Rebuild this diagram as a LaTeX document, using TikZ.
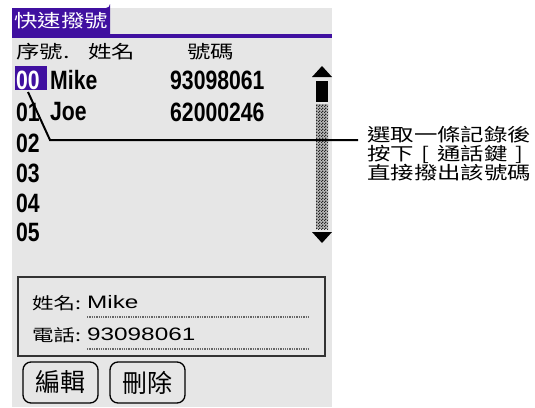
\documentclass[tikz,border=0pt]{standalone}
\usepackage{fontspec}
\usetikzlibrary{patterns}
\pgfdeclarepatternformonly{finecheck}{\pgfpointorigin}{\pgfqpoint{3pt}{3pt}}{\pgfqpoint{3pt}{3pt}}{%
  \pgfpathrectangle{\pgfpointorigin}{\pgfqpoint{1.5pt}{1.5pt}}%
  \pgfpathrectangle{\pgfqpoint{1.5pt}{1.5pt}}{\pgfqpoint{1.5pt}{1.5pt}}%
  \pgfusepath{fill}}
\newfontfamily\cjk[FakeStretch=1.3]{Noto Sans CJK TC}
\newfontfamily\cjkb[FakeStretch=1.0]{Noto Sans CJK TC}
\newfontfamily\rowf[FakeStretch=0.8]{Liberation Sans}
\newfontfamily\lsans[FakeStretch=1.35]{Liberation Sans}
\newcommand\brk[1]{\makebox[23.4pt][c]{#1}}
\definecolor{scr}{RGB}{230,230,230}
\definecolor{palm}{RGB}{64,16,160}
\tikzset{
  lbl/.style={anchor=west, inner sep=0pt},
  hdr/.style={lbl, font=\cjk\fontsize{18}{18}\selectfont},
  rowtxt/.style={lbl, font=\rowf\bfseries\fontsize{26.5}{27}\selectfont},
  det/.style={lbl, font=\cjk\fontsize{16.5}{17}\selectfont},
  detval/.style={lbl, font=\lsans\fontsize{18}{18}\selectfont},
  btn/.style={draw, line width=1.3pt, rounded corners=8pt, minimum width=75pt, minimum height=41pt, inner sep=0pt, font=\cjkb\fontsize{25}{25}\selectfont},
  leader/.style={line width=2pt, black},
  dotl/.style={line width=1.3pt, gray!80!black, dash pattern=on 1.3pt off 1pt}
}
\begin{document}
\begin{tikzpicture}[x=1pt, y=-1pt]
\useasboundingbox (0,0) rectangle (535,407);
% screen
\fill[scr] (12,8) rectangle (332,407);
% tab and title bar
\fill[palm] (12,37) -- (12,8) -- (106,8) arc[start angle=90, end angle=0, radius=4] -- (110,37) -- cycle;
\fill[palm] (12,33.5) rectangle (332,37.5);
\node[hdr, text=white] (title) at (14,21) {快速撥號};
% header
\node[hdr] (h1) at (16,51.5) {序號.};
\node[hdr] (h2) at (88,51.5) {姓名};
\node[hdr] (h3) at (187,51.5) {號碼};
% selection highlight
\fill[palm] (15,66) rectangle (47,89.5);
% rows
\node[rowtxt, text=white] (n0) at (16,80.5) {00};
\node[rowtxt] (m0) at (50,80.5) {Mike};
\node[rowtxt] (p0) at (170,80.5) {93098061};
\node[rowtxt] (n1) at (16,112) {01};
\node[rowtxt] (m1) at (50,112) {Joe};
\node[rowtxt] (p1) at (170,112) {62000246};
\node[rowtxt] (n2) at (16,143.5) {02};
\node[rowtxt] (n3) at (16,173.5) {03};
\node[rowtxt] (n4) at (16,203) {04};
\node[rowtxt] (n5) at (16,232.5) {05};
% scroll bar
\fill[black] (312,77) -- (332,77) -- (322,66) -- cycle;
\fill[black] (316,81) rectangle (328,102);
\fill[gray!55] (316,104) rectangle (328,229);
\fill[pattern=finecheck, pattern color=black!85] (316,104) rectangle (328,229);
\fill[black] (312,232) -- (332,232) -- (322,243) -- cycle;
% leader and note
\node[lbl, align=left, font=\cjk\fontsize{18}{18.7}\selectfont] (note) at (367,153.5) {選取一條記錄後\\按下\brk{[}通話鍵\brk{]}\\直接撥出該號碼};
\coordinate (c0) at (28,92);
\coordinate (c1) at (50,140);
\coordinate (c2) at (358,140);
\draw[leader] (c0) -- (c1) -- (c2);
% detail box
\draw[line width=1.6pt, black!80] (18,277) rectangle (325,356);
\node[det] (d1) at (32,303) {姓名:};
\node[detval] (v1) at (87,302) {Mike};
\node[det] (d2) at (32,335) {電話:};
\node[detval] (v2) at (87,334) {93098061};
\draw[dotl] (87,317) -- (310,317);
\draw[dotl] (87,349) -- (310,349);
% buttons
\node[btn] (b1) at (60.5,382.5) {編輯};
\node[btn] (b2) at (147.5,382.5) {刪除};
\end{tikzpicture}
\end{document}
